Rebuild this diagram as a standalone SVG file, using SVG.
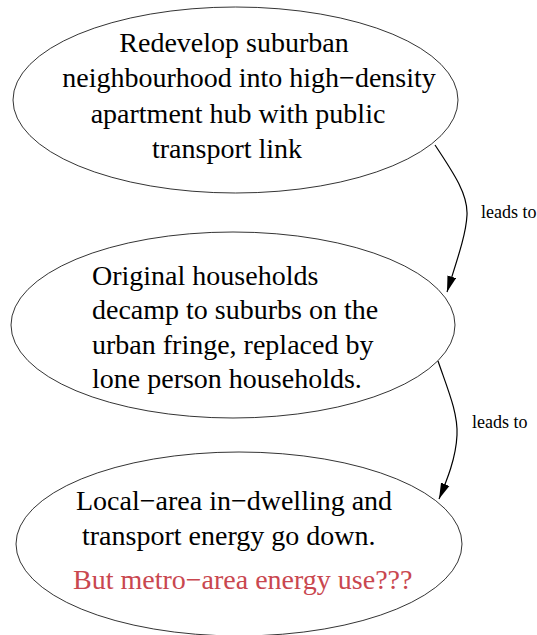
<svg xmlns="http://www.w3.org/2000/svg" width="537" height="635" viewBox="0 0 537 635">
<style>
.n{fill:none;stroke:#000;stroke-width:0.8}
text{font-family:'Liberation Serif','Times New Roman',Times,serif}
.t{font-size:28px;fill:#000}
.l{font-size:18px;fill:#000}
.e{fill:none;stroke:#000;stroke-width:1.2}
.red{fill:#c9474f}
</style>
<defs>
<marker id="ah" markerWidth="17" markerHeight="10" refX="16" refY="5" orient="auto" markerUnits="userSpaceOnUse">
<path d="M0,0.5 L16,5 L0,9.5 Z" fill="#000"/>
</marker>
</defs>
<rect width="537" height="635" fill="#fff"/>
<g id="connectors">
<path class="e" d="M435,145 C455,175 468,195 467,215 C466,235 457,260 447,292" marker-end="url(#ah)"/>
<text class="l" x="481" y="218">leads to</text>
<path class="e" d="M438,361 C448,390 458,413 457,435 C456,458 447,480 439,499" marker-end="url(#ah)"/>
<text class="l" x="472" y="428">leads to</text>
</g>
<g id="node1">
<ellipse class="n" cx="235.5" cy="100" rx="222.5" ry="93"/>
<text class="t" x="234" y="52" text-anchor="middle">Redevelop suburban</text>
<text class="t" x="249" y="87" text-anchor="middle">neighbourhood into high−density</text>
<text class="t" x="238" y="123" text-anchor="middle">apartment hub with public</text>
<text class="t" x="227" y="158" text-anchor="middle">transport link</text>
</g>
<g id="node2">
<ellipse class="n" cx="233" cy="325" rx="222" ry="93"/>
<text class="t" x="92" y="285">Original households</text>
<text class="t" x="92" y="319">decamp to suburbs on the</text>
<text class="t" x="92" y="354">urban fringe, replaced by</text>
<text class="t" x="92" y="388">lone person households.</text>
</g>
<g id="node3">
<ellipse class="n" cx="239" cy="544" rx="223" ry="92"/>
<text class="t" x="76" y="510">Local−area in−dwelling and</text>
<text class="t" x="82" y="545">transport energy go down.</text>
<text class="t red" x="73" y="589">But metro−area energy use???</text>
</g>
</svg>
